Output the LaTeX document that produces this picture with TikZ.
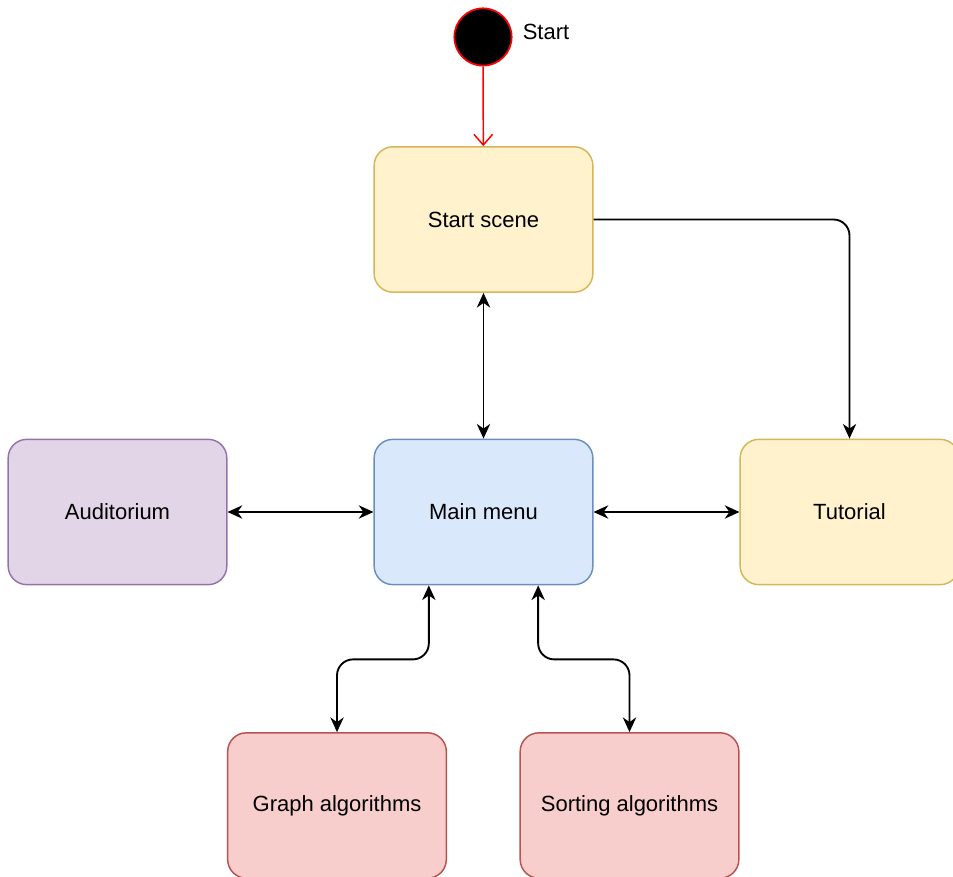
\documentclass[tikz,border=0pt]{standalone}
\usepackage{fontspec}
\setmainfont{Liberation Sans}
\usetikzlibrary{arrows.meta}

\definecolor{sceneFill}{HTML}{FFF2CC}
\definecolor{sceneLine}{HTML}{D6B656}
\definecolor{menuFill}{HTML}{DAE8FC}
\definecolor{menuLine}{HTML}{6C8EBF}
\definecolor{hallFill}{HTML}{E1D5E7}
\definecolor{hallLine}{HTML}{9673A6}
\definecolor{algoFill}{HTML}{F8CECC}
\definecolor{algoLine}{HTML}{B85450}
\definecolor{startRed}{HTML}{FF0000}

\begin{document}
\begin{tikzpicture}[x=0.75pt, y=-0.75pt, >={Stealth[length=11pt, width=10pt, inset=3.5pt]}, line width=1.4pt]
                        \tikzset{state/.style={draw, line width=1.1pt, rounded corners=14pt, minimum width=164pt, minimum height=109pt, inner sep=0pt, font=\fontsize{16.5pt}{20pt}\selectfont}};
                        \tikzset{yellowstate/.style={state, fill=sceneFill, draw=sceneLine}};
                        \useasboundingbox (0, 0) rectangle (953, 877);
                        \node[circle, draw=startRed, fill=black, line width=1.3pt, minimum size=43pt, inner sep=0pt] (start) at (483, 37) {};
                        \node[font=\fontsize{16.5pt}{20pt}\selectfont] (startlabel) at (546, 32) {Start};
                        \node[yellowstate] (scene) at (483.5, 219.5) {Start scene};
                        \node[state, fill=menuFill, draw=menuLine] (menu) at (483.5, 512) {Main menu};
                        \node[state, fill=hallFill, draw=hallLine] (hall) at (117.5, 512) {Auditorium};
                        \node[yellowstate] (tutorial) at (849.5, 512) {Tutorial};
                        \node[state, fill=algoFill, draw=algoLine] (graph) at (337, 805.5) {Graph algorithms};
                        \node[state, fill=algoFill, draw=algoLine] (sorting) at (629.5, 805.5) {Sorting algorithms};
                        \draw[startRed, line width=1.1pt, -{Straight Barb[length=8pt, width=14pt]}] (start) -- (scene);
                        \draw[->, rounded corners=12pt] (scene.east) -| (tutorial.north);
                        \draw[<->] (scene) -- (menu);
                        \draw[<->] (hall) -- (menu);
                        \draw[<->] (menu) -- (tutorial);
                        \draw[<->, rounded corners=12pt] ([xshift=-41pt]menu.south) -- ++(0, 74) -| (graph.north);
                        \draw[<->, rounded corners=12pt] ([xshift=41pt]menu.south) -- ++(0, 74) -| (sorting.north);
                    \end{tikzpicture}
\end{document}
